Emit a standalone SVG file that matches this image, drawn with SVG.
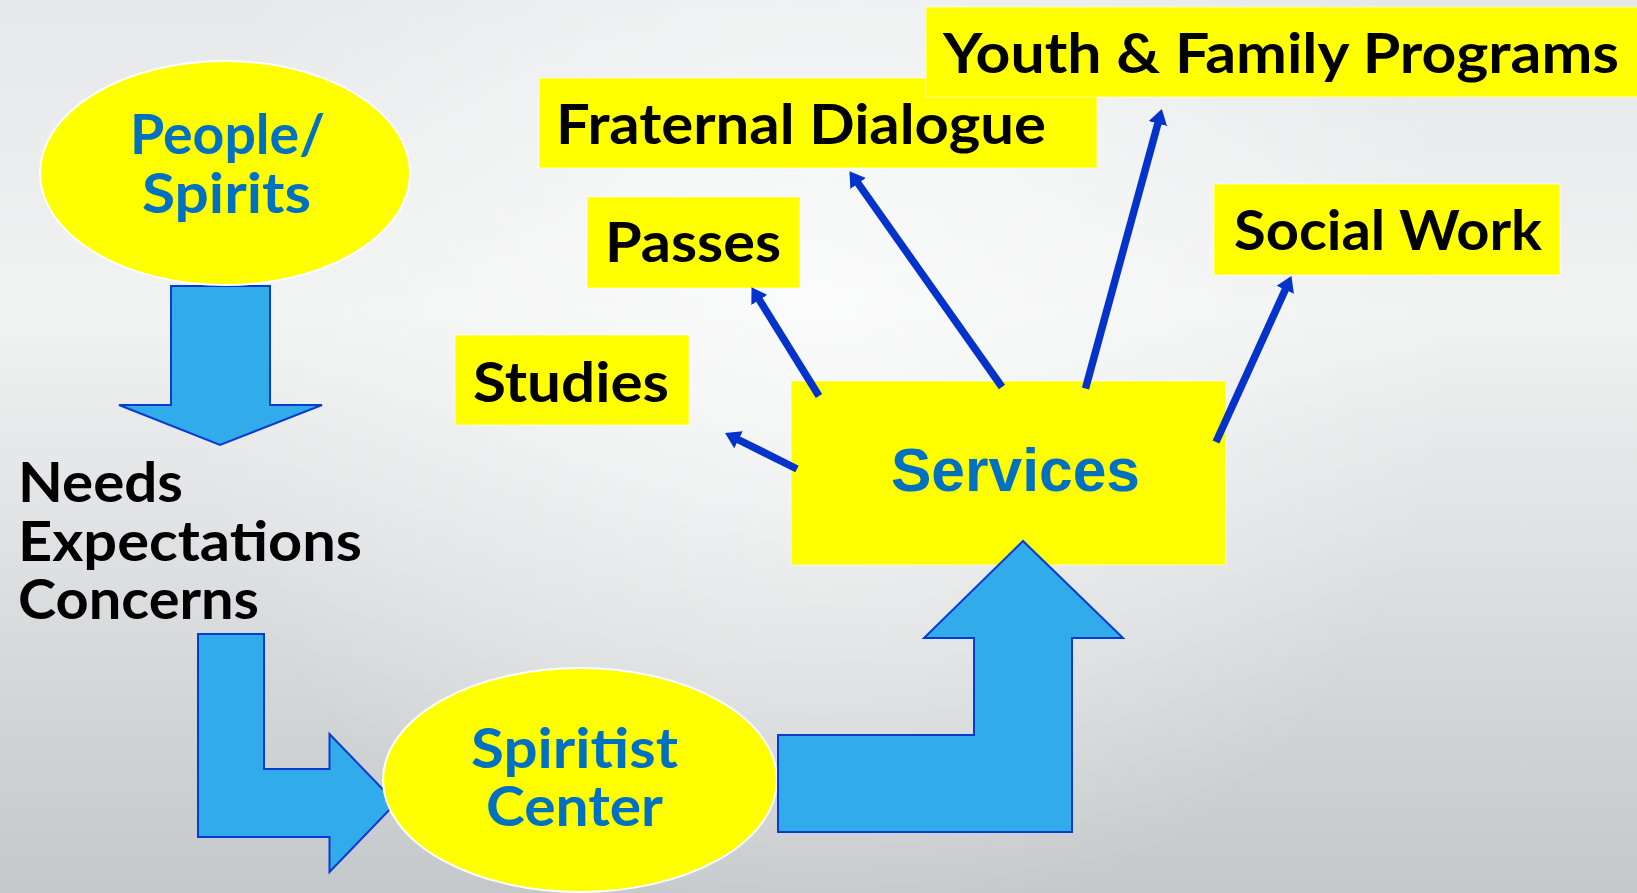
<svg xmlns="http://www.w3.org/2000/svg" width="1637" height="893" viewBox="0 0 1637 893">
<defs>
<linearGradient id="bg" x1="0" y1="0" x2="0" y2="1">
<stop offset="0" stop-color="#e6e8e9"/>
<stop offset="0.35" stop-color="#f1f2f2"/>
<stop offset="1" stop-color="#c4c8ca"/>
</linearGradient>
<radialGradient id="hl" cx="820" cy="300" r="650" gradientUnits="userSpaceOnUse">
<stop offset="0" stop-color="#ffffff" stop-opacity="0.7"/>
<stop offset="1" stop-color="#ffffff" stop-opacity="0"/>
</radialGradient>
<marker id="ah" markerUnits="userSpaceOnUse" markerWidth="15" markerHeight="19" viewBox="0 0 15 19" refX="4" refY="9.5" orient="auto">
<path d="M0,0 L15,9.5 L0,19 z" fill="#0433cc"/>
</marker>
</defs>
<style>
.yl{fill:#ffff00;stroke:#ffffff;stroke-width:1;stroke-opacity:0.6}
.el{fill:#ffff00;stroke:#ffffff;stroke-width:2}
.blk{fill:#000000;font-family:Lato,"Open Sans",sans-serif;font-weight:bold;font-size:56px}
.blu{fill:#0070c0;font-family:Lato,"Open Sans",sans-serif;font-weight:bold;font-size:56px}
.svc{fill:#0070c0;font-family:"Liberation Sans",Arial,sans-serif;font-weight:bold;font-size:61px}
.ba{fill:#31abe9;stroke:#0a3bd0;stroke-width:2}
.cn{stroke:#0433cc;stroke-width:7.5;fill:none;marker-end:url(#ah)}
</style>
<rect width="1637" height="893" fill="url(#bg)"/>
<rect width="1637" height="893" fill="url(#hl)"/>

<g id="block-arrows">
<polygon class="ba" points="171,286 270,286 270,405 322,405 220,445 119,405 171,405"/>
<polygon class="ba" points="198,634 264,634 264,769 329.5,769 329.5,734 396,803 329.5,872 329.5,837 198,837"/>
</g>

<g id="people">
<ellipse class="el" cx="225" cy="173" rx="185" ry="112"/>
<text class="blu" x="130" y="154" textLength="195" lengthAdjust="spacingAndGlyphs">People/</text>
<text class="blu" x="142" y="213" textLength="169" lengthAdjust="spacingAndGlyphs">Spirits</text>
</g>

<g id="needs">
<text class="blk" x="18" y="502" textLength="165" lengthAdjust="spacingAndGlyphs">Needs</text>
<text class="blk" x="18" y="561" textLength="344" lengthAdjust="spacingAndGlyphs">Expectations</text>
<text class="blk" x="18" y="619" textLength="241" lengthAdjust="spacingAndGlyphs">Concerns</text>
</g>

<g id="center">
<ellipse class="el" cx="580" cy="780" rx="197" ry="112"/>
<text class="blu" x="471" y="768" textLength="207" lengthAdjust="spacingAndGlyphs">Spiritist</text>
<text class="blu" x="486" y="826" textLength="177" lengthAdjust="spacingAndGlyphs">Center</text>
</g>

<g id="fraternal">
<rect class="yl" x="539" y="78" width="558" height="90"/>
<text class="blk" x="556" y="144" textLength="490" lengthAdjust="spacingAndGlyphs">Fraternal Dialogue</text>
</g>

<g id="youth">
<rect class="yl" x="926" y="7" width="712" height="90"/>
<text class="blk" x="943" y="73" textLength="676" lengthAdjust="spacingAndGlyphs">Youth &amp; Family Programs</text>
</g>

<g id="passes">
<rect class="yl" x="587" y="197" width="213" height="91"/>
<text class="blk" x="605" y="262" textLength="176" lengthAdjust="spacingAndGlyphs">Passes</text>
</g>

<g id="studies">
<rect class="yl" x="455" y="335" width="234" height="90"/>
<text class="blk" x="473" y="402" textLength="196" lengthAdjust="spacingAndGlyphs">Studies</text>
</g>

<g id="social">
<rect class="yl" x="1214" y="184" width="346" height="91"/>
<text class="blk" x="1234" y="250" textLength="308" lengthAdjust="spacingAndGlyphs">Social Work</text>
</g>

<g id="services">
<rect class="yl" x="791" y="381" width="435" height="184"/>
<text class="svc" x="891" y="491" textLength="249" lengthAdjust="spacingAndGlyphs">Services</text>
</g>

<g id="up-arrow">
<polygon class="ba" points="778,735 974,735 974,638 924,638 1023,541 1123,638 1072,638 1072,832 778,832"/>
</g>

<g id="connectors">
<line class="cn" x1="797" y1="469" x2="734.9" y2="438"/>
<line class="cn" x1="819" y1="396" x2="757.3" y2="296.5"/>
<line class="cn" x1="1002" y1="387" x2="855.8" y2="180.2"/>
<line class="cn" x1="1085.5" y1="388.5" x2="1158.9" y2="119.7"/>
<line class="cn" x1="1216" y1="442" x2="1286.9" y2="286.1"/>
</g>
</svg>
